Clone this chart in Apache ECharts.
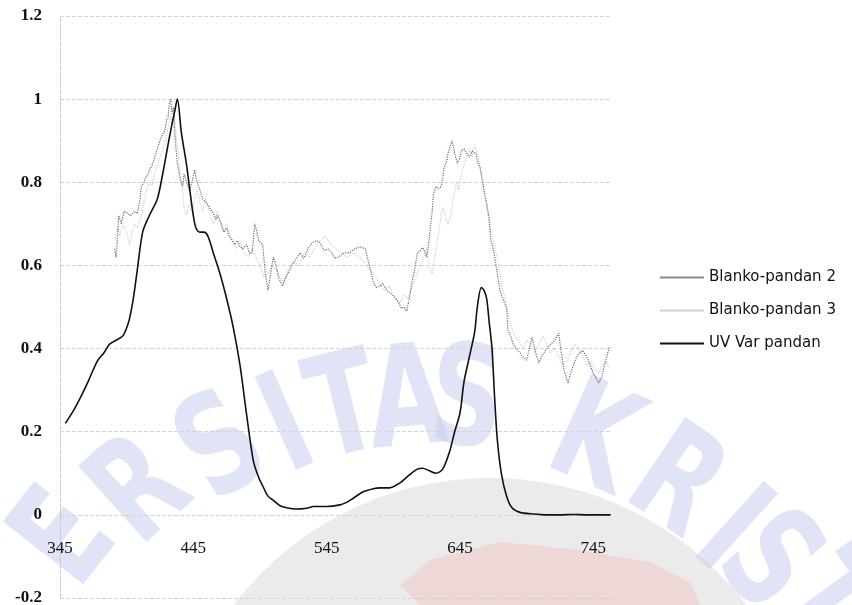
<!DOCTYPE html>
<html>
<head>
<meta charset="utf-8">
<title>Spektrum pandan</title>
<script src="https://cdn.jsdelivr.net/npm/echarts@6/dist/echarts.min.js"></script>
<style>
  html, body { margin: 0; padding: 0; background: #ffffff; }
  #chart { width: 852px; height: 605px; }
</style>
</head>
<body>
<div id="chart"></div>
<script>
// Series names and axis ticks
const seriesNames = ['Blanko-pandan 2', 'Blanko-pandan 3', 'UV Var pandan'];
const xTickLabels = [345, 445, 545, 645, 745];
const yMin = -0.2, yMax = 1.2, yStep = 0.2;

// UV Var pandan (nm, absorbance)
const uvWavelength = [349,355,360,366,373,378,382,387,392,395,397,400,403,407,412,418,422,426,429,431,433,436,440,442,445,447,450,453,456,460,465,470,475,480,485,490,494,497,501,505,510,515,522,530,535,545,555,560,565,572,580,585,592,600,607,613,617,622,627,632,637,641,645,648,652,656,658,661,663,665,667,669,671,673,676,680,684,690,700,710,720,730,740,750,758];
const uvAbsorbance = [0.22,0.25,0.28,0.32,0.37,0.39,0.41,0.42,0.43,0.45,0.47,0.52,0.59,0.68,0.72,0.76,0.82,0.89,0.94,0.97,1.00,0.92,0.84,0.79,0.72,0.69,0.68,0.68,0.67,0.63,0.58,0.52,0.45,0.36,0.24,0.13,0.09,0.07,0.045,0.035,0.022,0.017,0.014,0.016,0.02,0.02,0.024,0.03,0.04,0.055,0.063,0.065,0.065,0.077,0.096,0.11,0.112,0.106,0.10,0.11,0.15,0.20,0.245,0.32,0.38,0.44,0.50,0.547,0.54,0.52,0.46,0.40,0.28,0.18,0.10,0.044,0.017,0.006,0.002,0.0,0.0,0.001,0.0,0.0,0.0];

// Blanko-pandan 2 (nm, absorbance)
const blanko2Wavelength = [386,387,388,389,391,393,395,398,401,403,405,406,408,409,411,412,414,415,417,418,420,421,423,424,425,426,427,428,429,430,431,432,433,434,435,437,438,440,442,444,446,447,449,450,452,455,457,460,462,463,466,468,470,472,474,476,478,480,482,485,487,489,490,491,492,494,497,499,501,503,505,507,509,512,514,516,519,521,523,525,528,531,533,535,537,540,543,546,549,551,554,558,562,566,570,574,577,580,582,585,587,590,594,597,599,601,603,605,607,609,611,613,615,617,619,620,621,622,623,624,625,627,629,631,632,633,635,636,638,639,641,643,645,646,648,650,652,654,657,658,660,662,663,665,667,668,670,671,673,675,677,680,681,683,685,688,690,692,695,697,699,701,704,706,708,710,713,716,719,721,723,726,728,730,733,735,737,740,742,745,747,749,751,753,755,757];
const blanko2Absorbance = [0.64,0.62,0.66,0.72,0.70,0.73,0.727,0.72,0.73,0.725,0.76,0.79,0.80,0.81,0.82,0.83,0.84,0.85,0.87,0.88,0.90,0.91,0.92,0.93,0.95,0.955,0.99,1.0,0.965,0.98,0.92,0.88,0.845,0.83,0.81,0.79,0.82,0.80,0.78,0.80,0.83,0.81,0.79,0.78,0.76,0.75,0.74,0.725,0.71,0.72,0.70,0.68,0.69,0.67,0.66,0.65,0.66,0.645,0.64,0.65,0.63,0.63,0.66,0.70,0.69,0.66,0.65,0.58,0.54,0.58,0.62,0.60,0.57,0.55,0.57,0.58,0.60,0.61,0.62,0.63,0.617,0.64,0.65,0.655,0.66,0.655,0.636,0.64,0.63,0.617,0.62,0.63,0.63,0.64,0.645,0.64,0.60,0.56,0.547,0.55,0.557,0.54,0.53,0.52,0.51,0.497,0.50,0.49,0.52,0.56,0.59,0.63,0.635,0.643,0.63,0.62,0.64,0.667,0.70,0.725,0.77,0.79,0.785,0.79,0.81,0.835,0.85,0.87,0.89,0.90,0.87,0.845,0.86,0.876,0.88,0.87,0.86,0.875,0.87,0.85,0.835,0.80,0.78,0.75,0.71,0.66,0.64,0.62,0.58,0.54,0.52,0.497,0.444,0.43,0.41,0.396,0.39,0.38,0.372,0.40,0.427,0.40,0.365,0.38,0.39,0.40,0.41,0.42,0.437,0.39,0.348,0.317,0.34,0.36,0.384,0.39,0.396,0.38,0.365,0.34,0.33,0.317,0.33,0.355,0.38,0.403];

// Blanko-pandan 3 (nm, absorbance)
const blanko3Wavelength = [386,388,390,392,395,397,399,401,403,406,408,410,412,414,416,418,420,422,424,426,428,429,431,432,434,435,437,438,440,442,444,446,448,450,452,454,456,458,460,463,465,467,470,472,475,477,480,483,486,489,492,495,498,501,504,507,510,513,516,520,524,528,532,536,540,544,548,552,556,560,565,570,575,580,584,588,592,596,600,603,606,609,612,615,618,620,622,624,626,628,630,632,634,636,638,640,642,644,646,648,650,652,654,656,658,660,662,664,666,668,670,672,674,676,678,680,682,684,686,689,692,695,698,701,704,707,710,713,716,719,722,725,728,731,734,737,740,743,746,749,752,755,757];
const blanko3Absorbance = [0.66,0.69,0.67,0.70,0.68,0.65,0.68,0.70,0.69,0.72,0.75,0.78,0.80,0.79,0.82,0.84,0.86,0.88,0.90,0.93,0.96,0.94,0.96,0.91,0.86,0.82,0.78,0.74,0.72,0.75,0.73,0.76,0.78,0.75,0.73,0.76,0.74,0.72,0.70,0.73,0.71,0.68,0.70,0.67,0.66,0.64,0.66,0.63,0.62,0.64,0.62,0.60,0.57,0.58,0.60,0.59,0.57,0.56,0.59,0.61,0.60,0.63,0.62,0.64,0.66,0.67,0.65,0.64,0.63,0.62,0.63,0.62,0.60,0.58,0.56,0.54,0.55,0.52,0.51,0.53,0.52,0.55,0.57,0.60,0.62,0.64,0.60,0.58,0.62,0.66,0.70,0.74,0.72,0.70,0.72,0.76,0.80,0.78,0.82,0.84,0.86,0.88,0.86,0.89,0.87,0.84,0.80,0.76,0.72,0.68,0.66,0.63,0.60,0.56,0.53,0.50,0.47,0.45,0.43,0.42,0.40,0.42,0.41,0.39,0.41,0.43,0.41,0.39,0.40,0.38,0.36,0.37,0.39,0.41,0.40,0.38,0.36,0.37,0.35,0.34,0.36,0.37,0.35];

const pair = (xs, ys) => xs.map((x, i) => [x, ys[i]]);

// Background emblem: letters placed along an arc
const emblemLetters = [
  { ch: 'E', x: 70,  y: 542, r: 52 },
  { ch: 'R', x: 144, y: 495, r: 42 },
  { ch: 'S', x: 225, y: 454, r: 32 },
  { ch: 'I', x: 290, y: 433, r: 24 },
  { ch: 'T', x: 346, y: 416, r: 14 },
  { ch: 'A', x: 408, y: 408, r: 5 },
  { ch: 'S', x: 466, y: 408, r: -4 },
  { ch: 'K', x: 592, y: 446, r: -24 },
  { ch: 'R', x: 673, y: 488, r: -34 },
  { ch: 'I', x: 727, y: 536, r: -42 },
  { ch: 'S', x: 764, y: 566, r: -48 },
  { ch: 'T', x: 818, y: 606, r: -54 }
];

const emblem = [
  {
    type: 'circle',
    shape: { cx: 490, cy: 800, r: 322 },
    style: { fill: 'rgba(200,200,200,0.36)' },
    z: -20, silent: true
  },
  {
    type: 'polygon',
    shape: { points: [[430,560],[500,542],[580,550],[650,562],[690,582],[700,605],[420,605],[400,586]] },
    style: { fill: 'rgba(245,150,150,0.24)' },
    z: -19, silent: true
  }
].concat(emblemLetters.map(l => ({
  type: 'text',
  x: l.x, y: l.y,
  rotation: l.r * Math.PI / 180,
  scaleX: 0.72,
  z: -18, silent: true,
  style: {
    text: l.ch,
    fill: 'rgba(200,206,238,0.55)',
    font: 'bold 140px "DejaVu Sans", sans-serif',
    align: 'center',
    verticalAlign: 'middle'
  }
})));

const chart = echarts.init(document.getElementById('chart'), null, { renderer: 'canvas' });

chart.setOption({
  animation: false,
  backgroundColor: '#ffffff',
  graphic: { elements: emblem },
  grid: { left: 60, right: 240, top: 16, bottom: 7, containLabel: false, outerBoundsMode: 'none' },
  legend: {
    orient: 'vertical',
    left: 655,
    top: 265,
    itemWidth: 44,
    itemHeight: 2,
    itemGap: 18,
    icon: 'rect',
    textStyle: { color: '#111', fontSize: 15, fontFamily: '"DejaVu Sans", sans-serif' },
    data: seriesNames
  },
  xAxis: {
    type: 'value',
    min: 345,
    max: 759,
    position: 'bottom',
    axisLine: { show: false, onZero: false },
    axisTick: { show: false },
    splitLine: { show: false },
    axisLabel: {
      customValues: xTickLabels,
      // tick labels sit just under the zero line
      margin: -58,
      color: '#111',
      fontSize: 17,
      fontFamily: '"Liberation Serif", serif'
    }
  },
  yAxis: {
    type: 'value',
    min: yMin,
    max: yMax,
    interval: yStep,
    axisLine: { show: true, lineStyle: { color: '#c8c8c8', type: 'dashed', width: 1 } },
    axisTick: { show: false },
    splitLine: { show: true, lineStyle: { color: '#d4d4d4', type: 'dashed', width: 1 } },
    axisLabel: {
      margin: 18,
      color: '#111',
      fontSize: 17,
      fontWeight: 'bold',
      fontFamily: '"Liberation Serif", serif'
    }
  },
  series: [
    {
      name: seriesNames[0],
      type: 'line',
      data: pair(blanko2Wavelength, blanko2Absorbance),
      symbol: 'none',
      color: '#8a8a8a',
      lineStyle: { color: '#6e6e6e', width: 1.2, type: 'dotted' },
      z: 3
    },
    {
      name: seriesNames[1],
      type: 'line',
      data: pair(blanko3Wavelength, blanko3Absorbance),
      symbol: 'none',
      color: '#d2d2d2',
      lineStyle: { color: '#cfcfcf', width: 1.2, type: 'dotted' },
      z: 2
    },
    {
      name: seriesNames[2],
      type: 'line',
      data: pair(uvWavelength, uvAbsorbance),
      symbol: 'none',
      smooth: 0.3,
      color: '#111111',
      lineStyle: { color: '#111111', width: 1.6 },
      z: 4
    }
  ]
});
</script>
</body>
</html>
